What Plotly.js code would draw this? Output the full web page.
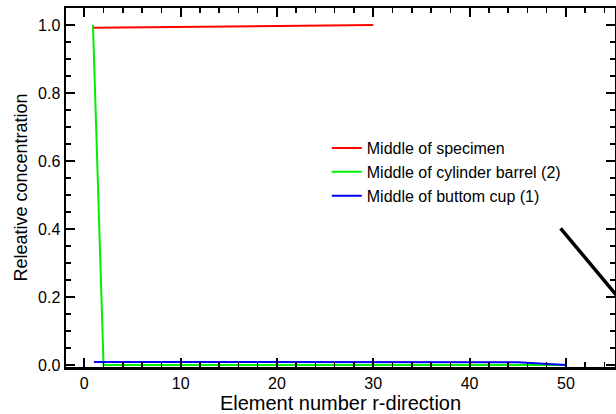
<!DOCTYPE html>
<html>
<head>
<meta charset="utf-8">
<script src="https://cdn.plot.ly/plotly-3.0.1.min.js"></script>
<style>html,body{margin:0;padding:0;background:#fff}#chart{width:616px;height:414px}</style>
</head>
<body>
<div id="chart"></div>
<script>
// Data
const specimenX = [1, 30];
const specimenY = [0.992, 1.0];
const barrelX = [0.9, 2, 50];
const barrelY = [1.0, 0.0, 0.0];
const cupX = [1, 45, 50];
const cupY = [0.009, 0.008, 0.0];
const pointerX = [49.45, 56];
const pointerY = [0.402, 0.18];
const seriesNames = ["Middle of specimen", "Middle of cylinder barrel (2)", "Middle of buttom cup (1)"];
const xTicks = [0, 10, 20, 30, 40, 50];
const yTicks = [0.0, 0.2, 0.4, 0.6, 0.8, 1.0];
const yTickText = ["0.0", "0.2", "0.4", "0.6", "0.8", "1.0"];

const font = "Liberation Sans, Arial, Helvetica, sans-serif";

const traces = [
  {x: specimenX, y: specimenY, name: seriesNames[0], mode: "lines", line: {color: "#ff0000", width: 2}},
  {x: barrelX, y: barrelY, name: seriesNames[1], mode: "lines", line: {color: "#00ee00", width: 2}},
  {x: cupX, y: cupY, name: seriesNames[2], mode: "lines", line: {color: "#0000ff", width: 2}},
  {x: pointerX, y: pointerY, mode: "lines", line: {color: "#000000", width: 3.5}, showlegend: false, hoverinfo: "skip"}
];

const axisCommon = {
  showline: true, linecolor: "#000", linewidth: 2.5, mirror: "allticks",
  ticks: "inside", ticklen: 9, tickwidth: 2, tickcolor: "#000",
  showgrid: false, zeroline: false,
  tickfont: {family: font, size: 16, color: "#000"}
};

const layout = {
  width: 616, height: 414,
  margin: {l: 66, r: 1, t: 8, b: 47},
  paper_bgcolor: "#fff", plot_bgcolor: "#fff",
  showlegend: true,
  legend: {x: 0.475, y: 0.657, xanchor: "left", yanchor: "top", bgcolor: "rgba(0,0,0,0)",
           font: {family: font, size: 16, color: "#000"}, tracegroupgap: 0},
  xaxis: Object.assign({}, axisCommon, {
    range: [-1.9, 55.1], tickvals: xTicks, ticktext: xTicks.map(String),
    minor: {dtick: 2, ticklen: 5, tickwidth: 1.5, tickcolor: "#000", ticks: "inside"},
    title: {text: "Element number r-direction", font: {family: font, size: 20, color: "#000"}, standoff: 0}
  }),
  yaxis: Object.assign({}, axisCommon, {
    range: [-0.006, 1.05], tickvals: yTicks, ticktext: yTickText,
    minor: {dtick: 0.05, ticklen: 5, tickwidth: 1.5, tickcolor: "#000", ticks: "inside"},
    title: {text: "Releative concentration", font: {family: font, size: 18, color: "#000"}, standoff: 6}
  })
};

Plotly.newPlot("chart", traces, layout, {staticPlot: true, displayModeBar: false});
</script>
</body>
</html>
